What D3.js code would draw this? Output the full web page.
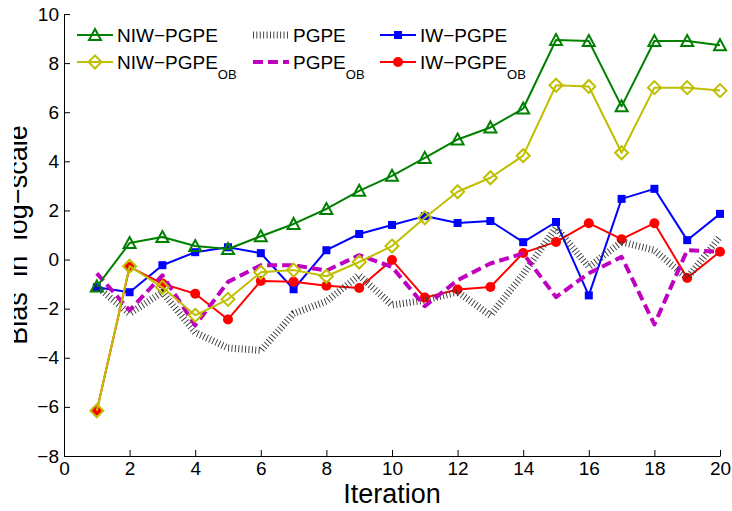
<!DOCTYPE html>
<html>
<head>
<meta charset="utf-8">
<script src="https://cdn.jsdelivr.net/npm/d3@7"></script>
<style>
  body { margin: 0; background: #fff; }
  svg { font-family: "Liberation Sans", Arial, Helvetica, sans-serif; }
</style>
</head>
<body>
<div id="chart"></div>
<script>
// iterations on the x axis
const iterations = [1, 2, 3, 4, 5, 6, 7, 8, 9, 10, 11, 12, 13, 14, 15, 16, 17, 18, 19, 20];

// bias values
const niwPgpe   = [-1.1, 0.67, 0.92, 0.55, 0.43, 0.95, 1.45, 2.06, 2.8, 3.41, 4.14, 4.89, 5.38, 6.15, 8.94, 8.9, 6.24, 8.9, 8.9, 8.73];
const niwPgpeOb = [-6.16, -0.27, -1.13, -2.27, -1.62, -0.52, -0.43, -0.68, -0.1, 0.55, 1.7, 2.76, 3.33, 4.23, 7.1, 7.05, 4.35, 7.0, 7.0, 6.88];
const pgpe      = [-1.1, -2.2, -1.33, -2.97, -3.6, -3.7, -2.2, -1.7, -0.64, -1.85, -1.66, -1.32, -2.27, -0.6, 1.3, -0.3, 0.72, 0.38, -0.75, 0.93];
const pgpeOb    = [-0.56, -2.07, -0.64, -2.68, -0.91, -0.23, -0.23, -0.45, 0.18, -0.3, -1.9, -0.84, -0.16, 0.25, -1.53, -0.56, 0.11, -2.64, 0.38, 0.32];
const iwPgpe    = [-1.13, -1.33, -0.23, 0.3, 0.5, 0.26, -1.21, 0.38, 1.04, 1.41, 1.77, 1.49, 1.57, 0.71, 1.53, -1.46, 2.47, 2.88, 0.79, 1.86];
const iwPgpeOb  = [-6.16, -0.3, -0.98, -1.39, -2.44, -0.87, -0.9, -1.07, -1.16, -0.02, -1.55, -1.22, -1.12, 0.27, 0.72, 1.48, 0.83, 1.48, -0.75, 0.32];

const xTicks = [0, 2, 4, 6, 8, 10, 12, 14, 16, 18, 20];
const yTicks = [-8, -6, -4, -2, 0, 2, 4, 6, 8, 10];

const width = 732, height = 511;

const x = d3.scaleLinear().domain([0, 20]).range([64, 720]);
const y = d3.scaleLinear().domain([-8, 10]).range([456, 14]);

const svg = d3.select("#chart").append("svg")
    .attr("width", width)
    .attr("height", height);

// series, in drawing order (later ones on top)
const series = [
    {name: "IW−PGPE", sub: "", values: iwPgpe, color: "#0000ff", marker: "square", dash: null, width: 2},
    {name: "IW−PGPE", sub: "OB", values: iwPgpeOb, color: "#ff0000", marker: "circle", dash: null, width: 2},
    {name: "PGPE", sub: "", values: pgpe, color: "#333", marker: null, dash: "0.9 2.5", width: 7},
    {name: "PGPE", sub: "OB", values: pgpeOb, color: "#bf00bf", marker: null, dash: "10 5", width: 4},
    {name: "NIW−PGPE", sub: "", values: niwPgpe, color: "#008000", marker: "triangle", dash: null, width: 2},
    {name: "NIW−PGPE", sub: "OB", values: niwPgpeOb, color: "#bfbf00", marker: "diamond", dash: null, width: 2}
];

function drawMarker(g, type, color, cx, cy){
    if(type == "square"){
        g.append("rect").attr("x", cx - 4).attr("y", cy - 4).attr("width", 8).attr("height", 8)
            .attr("fill", color);
    } else if(type == "circle"){
        g.append("circle").attr("cx", cx).attr("cy", cy).attr("r", 5).attr("fill", color);
    } else if(type == "triangle"){
        g.append("path")
            .attr("d", `M${cx},${cy - 6}L${cx + 6},${cy + 5}L${cx - 6},${cy + 5}Z`)
            .attr("fill", "none").attr("stroke", color).attr("stroke-width", 2);
    } else if(type == "diamond"){
        g.append("path")
            .attr("d", `M${cx},${cy - 6.5}L${cx + 6.5},${cy}L${cx},${cy + 6.5}L${cx - 6.5},${cy}Z`)
            .attr("fill", "none").attr("stroke", color).attr("stroke-width", 2);
    }
}

// axes
const yAxis = svg.append("g")
    .attr("transform", `translate(${x(0)},0)`)
    .call(d3.axisLeft(y).tickValues(yTicks).tickSizeInner(-6).tickSizeOuter(0).tickPadding(5));
const xAxis = svg.append("g")
    .attr("transform", `translate(0,${y(-8)})`)
    .call(d3.axisBottom(x).tickValues(xTicks).tickSizeInner(-6).tickSizeOuter(0).tickPadding(6));

[yAxis, xAxis].forEach(function(a){
    a.selectAll("text").attr("font-size", 19).attr("fill", "#000")
        .attr("font-family", "Liberation Sans, Arial, sans-serif");
    a.selectAll("line").attr("stroke", "#000");
    a.select(".domain").attr("stroke", "#000");
});

const line = d3.line()
    .x(function(d, i){ return x(iterations[i]); })
    .y(function(d){ return y(d); });

const plot = svg.append("g");
series.forEach(function(s){
    plot.append("path")
        .datum(s.values)
        .attr("d", line)
        .attr("fill", "none")
        .attr("stroke", s.color)
        .attr("stroke-width", s.width)
        .attr("stroke-dasharray", s.dash)
        .attr("stroke-linejoin", "round");
    if(s.marker){
        s.values.forEach(function(v, i){
            drawMarker(plot, s.marker, s.color, x(iterations[i]), y(v));
        });
    }
});

// legend: two rows, three columns
const legendOrder = [
    {s: series[4], col: 0, row: 0},
    {s: series[5], col: 0, row: 1},
    {s: series[2], col: 1, row: 0},
    {s: series[3], col: 1, row: 1},
    {s: series[0], col: 2, row: 0},
    {s: series[1], col: 2, row: 1}
];
const colX = [77, 253, 380];
const rowY = [35, 62];

const legend = svg.append("g");
legendOrder.forEach(function(item){
    const s = item.s;
    const lx = colX[item.col], ly = rowY[item.row];
    legend.append("line")
        .attr("x1", lx).attr("x2", lx + 36)
        .attr("y1", ly).attr("y2", ly)
        .attr("stroke", s.color)
        .attr("stroke-width", s.width)
        .attr("stroke-dasharray", s.dash);
    if(s.marker) drawMarker(legend, s.marker, s.color, lx + 18, ly);
    const t = legend.append("text")
        .attr("x", lx + 40)
        .attr("y", ly + 7)
        .attr("font-size", 19)
        .attr("fill", "#000")
        .text(s.name);
    if(s.sub){
        t.append("tspan").attr("font-size", 13).attr("dy", 10).text(s.sub);
    }
});

// axis titles
svg.append("text")
    .attr("x", (x(0) + x(20)) / 2)
    .attr("y", 503)
    .attr("text-anchor", "middle")
    .attr("font-size", 27)
    .text("Iteration");

// the y title is cut at its left edge in the original figure
svg.append("clipPath").attr("id", "ylabclip")
    .append("rect").attr("x", 14).attr("y", 0).attr("width", 40).attr("height", height);

svg.append("g")
    .attr("clip-path", "url(#ylabclip)")
    .append("text")
    .attr("transform", "translate(27,235) rotate(-90)")
    .attr("text-anchor", "middle")
    .attr("font-size", 27)
    .attr("word-spacing", 8)
    .text("Bias in log−scale");
</script>
</body>
</html>
